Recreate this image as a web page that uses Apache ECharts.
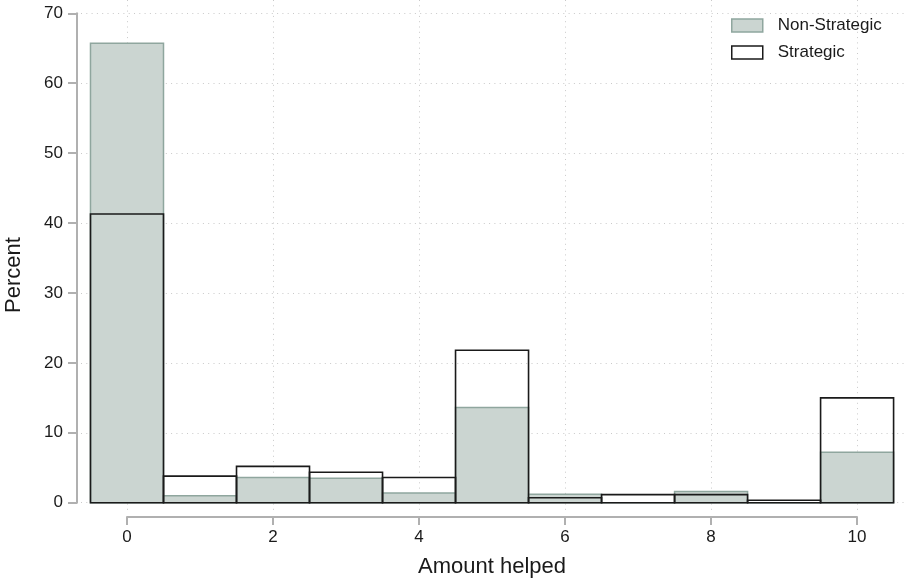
<!DOCTYPE html>
<html>
<head>
<meta charset="utf-8">
<script src="https://cdn.jsdelivr.net/npm/echarts@6/dist/echarts.min.js"></script>
<style>html,body{margin:0;padding:0;background:#fff}#c{width:906px;height:579px}</style>
</head>
<body>
<div id="c"></div>
<script>
var amounts = [0, 1, 2, 3, 4, 5, 6, 7, 8, 9, 10];
var nonStrategic = [65.7, 1.0, 3.6, 3.5, 1.4, 13.6, 1.2, 0, 1.6, 0, 7.2];
var strategic = [41.3, 3.8, 5.2, 4.35, 3.6, 21.8, 0.7, 1.15, 1.15, 0.35, 15.0];
var yTicks = [0, 10, 20, 30, 40, 50, 60, 70];
var xTicks = [0, 2, 4, 6, 8, 10];

var GREY_FILL = '#cbd5d1';
var GREY_EDGE = '#8fa69e';
var FONT = 'Liberation Sans, Arial, sans-serif';

function barRender(fill, stroke, lw) {
  return function (params, api) {
    var x = api.value(0), v = api.value(1);
    var p1 = api.coord([x - 0.5, v]);
    var p2 = api.coord([x + 0.5, 0]);
    return {
      type: 'rect',
      shape: { x: p1[0], y: p1[1], width: p2[0] - p1[0], height: p2[1] - p1[1] },
      style: { fill: fill, stroke: stroke, lineWidth: lw }
    };
  };
}

var chart = echarts.init(document.getElementById('c'), null, { renderer: 'canvas' });
var dotted = { color: '#c9c9c9', width: 1, type: [1, 4.3] };

chart.setOption({
  animation: false,
  backgroundColor: '#ffffff',
  textStyle: { fontFamily: FONT },
  grid: [
    { left: 81, right: 0, top: 13.3, bottom: 76.3, containLabel: false, outerBoundsMode: 'none' },
    { left: 127, width: 730, top: 0, bottom: 67, containLabel: false, outerBoundsMode: 'none' }
  ],
  xAxis: [
    { type: 'value', gridIndex: 0, min: -0.63, max: 10.67, show: false },
    {
      type: 'value', gridIndex: 1, min: 0, max: 10, interval: 2, offset: 5,
      axisLine: { show: true, onZero: false, lineStyle: { color: '#b0b0b0', width: 2 } },
      axisTick: { show: true, length: 8, lineStyle: { color: '#b0b0b0', width: 2 } },
      axisLabel: { margin: 12, fontSize: 17, color: '#1a1a1a', fontFamily: FONT,
        formatter: function (v) { return xTicks.indexOf(v) >= 0 ? String(v) : ''; } },
      splitLine: { show: true, lineStyle: dotted },
      name: 'Amount helped', nameLocation: 'middle', nameGap: 39,
      nameTextStyle: { fontSize: 22, color: '#1a1a1a', fontFamily: FONT }
    }
  ],
  yAxis: [
    {
      type: 'value', gridIndex: 0, min: 0, max: 70, interval: 10, offset: 4,
      axisLine: { show: true, onZero: false, lineStyle: { color: '#b0b0b0', width: 2 } },
      axisTick: { show: true, length: 9, lineStyle: { color: '#b0b0b0', width: 2 } },
      axisLabel: { margin: 14, fontSize: 17, color: '#1a1a1a', fontFamily: FONT,
        formatter: function (v) { return yTicks.indexOf(v) >= 0 ? String(v) : ''; } },
      splitLine: { show: true, lineStyle: dotted },
      name: 'Percent', nameLocation: 'middle', nameGap: 52,
      nameTextStyle: { fontSize: 22, color: '#1a1a1a', fontFamily: FONT, padding: [0, 34, 0, 0] }
    },
    { type: 'value', gridIndex: 1, min: 0, max: 1, show: false }
  ],
  legend: {
    orient: 'vertical', left: 731, top: 17, padding: 0,
    itemWidth: 31, itemHeight: 13, itemGap: 10, icon: 'rect',
    textStyle: { fontSize: 17, color: '#1a1a1a', lineHeight: 17, fontFamily: FONT, padding: [0, 0, 0, 10] },
    data: [
      { name: 'Non-Strategic', itemStyle: { color: GREY_FILL, borderColor: GREY_EDGE, borderWidth: 1.5 } },
      { name: 'Strategic', itemStyle: { color: '#ffffff', borderColor: '#1a1a1a', borderWidth: 1.5 } }
    ]
  },
  series: [
    {
      name: 'Non-Strategic', type: 'custom', xAxisIndex: 0, yAxisIndex: 0,
      itemStyle: { color: GREY_FILL, borderColor: GREY_EDGE },
      renderItem: barRender(GREY_FILL, GREY_EDGE, 1.5),
      data: amounts.map(function (a, i) { return [a, nonStrategic[i]]; })
    },
    {
      name: 'Strategic', type: 'custom', xAxisIndex: 0, yAxisIndex: 0,
      itemStyle: { color: '#ffffff', borderColor: '#1a1a1a' },
      renderItem: barRender('rgba(0,0,0,0)', '#1a1a1a', 1.6),
      data: amounts.map(function (a, i) { return [a, strategic[i]]; })
    },
    { type: 'line', xAxisIndex: 1, yAxisIndex: 1, data: [], silent: true }
  ]
});
</script>
</body>
</html>
